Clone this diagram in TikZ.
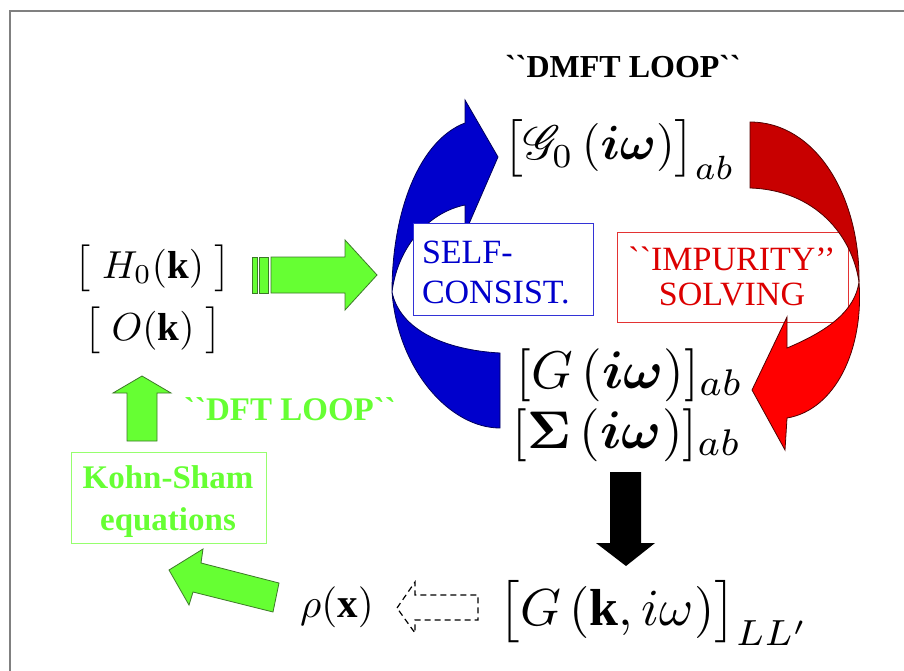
\documentclass[tikz,border=0pt]{standalone}
\usepackage{graphicx}
\usepackage{amsmath}
\IfFileExists{mathrsfs.sty}{\usepackage{mathrsfs}}{\newcommand{\mathscr}{\mathcal}}
\usepackage{fontspec}
\setmainfont{Liberation Serif}[Ligatures=TeXOff]
\definecolor{kgreen}{RGB}{102,255,51}
\definecolor{kgreendk}{RGB}{60,120,40}
\definecolor{kgreenlt}{RGB}{150,255,110}
\definecolor{kblue}{RGB}{0,0,204}
\definecolor{kbluedk}{RGB}{0,0,90}
\definecolor{kredA}{RGB}{200,0,0}
\definecolor{kredB}{RGB}{255,0,0}
\definecolor{kreddk}{RGB}{80,0,0}
\definecolor{kredtxt}{RGB}{220,0,0}
\definecolor{kframe}{RGB}{128,128,128}
\newcommand{\fsz}[1]{\fontsize{#1}{#1}\selectfont}
\newcommand{\mth}[2]{\scalebox{#1}{$#2$}}
\tikzset{
  lbl/.style={inner sep=0pt, outer sep=0pt, anchor=base},
  greenarrow/.style={fill=kgreen, draw=kgreendk, line width=0.8pt, line join=miter},
  bluearrow/.style={fill=kblue, draw=kbluedk, line width=0.8pt},
  redarrowA/.style={fill=kredA, draw=kreddk, line width=0.8pt},
  redarrowB/.style={fill=kredB, draw=kreddk, line width=0.8pt},
  bluebox/.style={fill=white, draw=kblue!80, line width=0.9pt},
  redbox/.style={fill=white, draw=kredtxt!80, line width=0.9pt},
  greenbox/.style={draw=kgreenlt, line width=0.9pt},
}
\begin{document}
\begin{tikzpicture}[x=1pt,y=-1pt]
\useasboundingbox (0,0) rectangle (904,671);
\fill[white] (0,0) rectangle (904,671);
% frame (top and left)
\draw[kframe, line width=2.2pt] (10,671) -- (10,11) -- (904,11);

% title
\node[lbl] (title) at (623,78) {\fsz{32}\bfseries ``DMFT LOOP``};

% blue curved arrow (self-consistency)
\draw[bluearrow] (392,292) .. controls (398,370) and (450,428) .. (500,428)
  -- (500,353) .. controls (445,350) and (400,330) .. (392,292) -- cycle;
\draw[bluearrow] (465,123) .. controls (420,140) and (392,210) .. (392,292)
  .. controls (398,245) and (430,212) .. (465,205)
  -- (465,233) -- (498,157) -- (465,100) -- cycle;

% boxes
\draw[bluebox] (413,223) rectangle (593,315);
\node[lbl, anchor=base west, text=kblue] (self1) at (422,263) {\fsz{34}SELF-};
\node[lbl, anchor=base west, text=kblue] (self2) at (422,303) {\fsz{34}CONSIST.};

\draw[redbox] (617,232) rectangle (848,322);
\node[lbl, text=kredtxt] (imp1) at (732,270) {\fsz{34}``IMPURITY’’};
\node[lbl, text=kredtxt] (imp2) at (732,305) {\fsz{34}SOLVING};

% red curved arrow (impurity solving)
\draw[redarrowA] (750,122) .. controls (815,122) and (860,195) .. (859,282)
  .. controls (852,235) and (815,190) .. (750,188) -- cycle;
\draw[redarrowB] (859,282) .. controls (864,350) and (835,410) .. (787,418)
  -- (785,450) -- (752,390) -- (787,317) -- (787,348)
  .. controls (830,330) and (855,310) .. (859,282) -- cycle;

% math labels
\node[lbl] (G0) at (619,160) {\mth{4.8}{\bigl[\mathscr{G}_0\,(\boldsymbol{i\omega})\bigr]_{ab}}};
\node[lbl] (H0) at (153,278) {\mth{3.9}{\bigl[\;H_0(\mathbf{k})\;\bigr]}};
\node[lbl] (Ok) at (153,340) {\mth{3.9}{\bigl[\;O(\mathbf{k})\;\bigr]}};
\node[lbl] (Gab) at (630,388) {\mth{5.3}{[G\,(\boldsymbol{i\omega})]_{ab}}};
\node[lbl] (Sab) at (627,448) {\mth{5.3}{[\boldsymbol{\Sigma}\,(\boldsymbol{i\omega})]_{ab}}};
\node[lbl] (Gk) at (654,625) {\mth{5.2}{\bigl[G\,(\mathbf{k},i\omega)\bigr]_{LL'}}};
\node[lbl] (rho) at (337,617) {\mth{4.1}{\rho(\mathbf{x})}};

% green arrow H0 -> loop
\draw[greenarrow] (252,257) rectangle (257,293);
\draw[greenarrow] (259,257) rectangle (268,293);
\draw[greenarrow] (271,257) -- (345,257) -- (345,240) -- (377,275) -- (345,310) -- (345,293) -- (271,293) -- cycle;

% DFT loop
\draw[greenarrow] (127,441) -- (127,393) -- (113,393) -- (142,376) -- (171,393) -- (157,393) -- (157,441) -- cycle;
\node[lbl, text=kgreen] (dft) at (290,420) {\fsz{33}\bfseries ``DFT LOOP``};
\draw[greenbox] (71,452) rectangle (266,543);
\node[lbl, text=kgreen] (ks1) at (168,488) {\fsz{33}\bfseries Kohn-Sham};
\node[lbl, text=kgreen] (ks2) at (168,530) {\fsz{33}\bfseries equations};
\draw[greenarrow] (169,570) -- (203,549) -- (201,563) -- (279,583) -- (273,612) -- (193,592) -- (189,605) -- cycle;

% dashed arrow G(k) -> rho
\draw[black, dashed, dash pattern=on 6pt off 4pt, line width=1.2pt] (397,608) -- (415,582) -- (415,595) -- (478,595) -- (478,620) -- (415,620) -- (415,633) -- cycle;

% black arrow
\fill[black] (610,472) -- (641,472) -- (641,543) -- (655,543) -- (626,566) -- (596,543) -- (610,543) -- cycle;
\end{tikzpicture}
\end{document}
